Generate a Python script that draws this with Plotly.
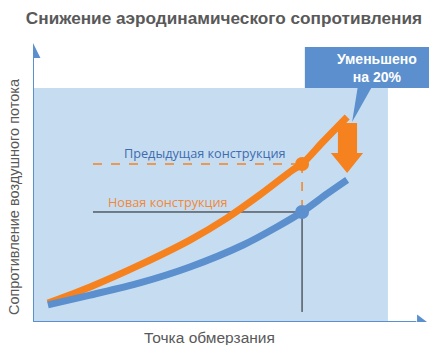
import plotly.graph_objects as go

# 数据（曲线取自图中读数，单位为任意刻度 0–100）
old_x = [4.2, 16.1, 30.1, 44.2, 54.6, 63.9, 73.2, 75.8, 81.7, 88.5]
old_y = [8.1, 15.0, 24.4, 35.0, 44.4, 54.3, 65.0, 67.5, 77.0, 87.6]

new_x = [4.2, 16.1, 30.1, 44.2, 59.2, 68.7, 75.8, 82.8, 88.5]
new_y = [7.3, 11.5, 16.7, 23.5, 32.9, 40.6, 47.0, 54.7, 60.7]

freeze_x = [75.8]
old_at_freeze = [67.5]
new_at_freeze = [47.0]

title_text = "Снижение аэродинамического сопротивления"
x_title = "Точка обмерзания"
y_title = "Сопротивление воздушного потока"
old_label = "Предыдущая конструкция"
new_label = "Новая конструкция"
callout_lines = ["Уменьшено", "на 20%"]

ORANGE = "#F5821F"
BLUE = "#5B8FCD"
BG = "#C6DDF1"
GREY = "#595959"

fig = go.Figure()

# 曲线
fig.add_trace(go.Scatter(
    x=old_x, y=old_y, mode="lines",
    line=dict(color=ORANGE, width=7, shape="spline", smoothing=0.8),
    hoverinfo="skip",
))
fig.add_trace(go.Scatter(
    x=new_x, y=new_y, mode="lines",
    line=dict(color=BLUE, width=7, shape="spline", smoothing=0.8),
    hoverinfo="skip",
))
# 交点
fig.add_trace(go.Scatter(
    x=freeze_x, y=old_at_freeze, mode="markers",
    marker=dict(color=ORANGE, size=14), hoverinfo="skip",
))
fig.add_trace(go.Scatter(
    x=freeze_x, y=new_at_freeze, mode="markers",
    marker=dict(color=BLUE, size=14), hoverinfo="skip",
))

fx = freeze_x[0]
oy = old_at_freeze[0]
ny = new_at_freeze[0]

shapes = [
    # 背景区域
    dict(type="rect", xref="x", yref="y", x0=0, x1=100, y0=0, y1=100,
         fillcolor=BG, line_width=0, layer="below"),
    # 坐标轴
    dict(type="line", xref="x", yref="y", x0=0, x1=0, y0=0, y1=114,
         line=dict(color=BLUE, width=2), layer="below"),
    dict(type="line", xref="x", yref="y", x0=0, x1=108, y0=0, y1=0,
         line=dict(color=BLUE, width=2), layer="below"),
    dict(type="path", xref="x", yref="y",
         path="M -2.1,112.8 L 2.1,112.8 L 0,119.2 Z",
         fillcolor=BLUE, line_width=0, layer="above"),
    dict(type="path", xref="x", yref="y",
         path="M 108.2,-3.2 L 108.2,3.2 L 111,0 Z",
         fillcolor=BLUE, line_width=0, layer="above"),
    # 辅助线
    dict(type="line", xref="x", yref="y", x0=16.9, x1=fx, y0=oy, y1=oy,
         line=dict(color=ORANGE, width=1.5, dash="dash"), layer="below"),
    dict(type="line", xref="x", yref="y", x0=fx, x1=fx, y0=oy, y1=ny,
         line=dict(color=ORANGE, width=1.5, dash="dash"), layer="below"),
    dict(type="line", xref="x", yref="y", x0=16.9, x1=fx, y0=ny, y1=ny,
         line=dict(color="#1a1a1a", width=1), layer="below"),
    dict(type="line", xref="x", yref="y", x0=fx, x1=fx, y0=ny, y1=4.3,
         line=dict(color="#1a1a1a", width=1), layer="below"),
    # 橙色向下箭头
    dict(type="path", xref="x", yref="y",
         path="M 85.9,85.0 L 91.3,85.0 L 91.3,72.2 L 93.0,72.2 L 88.5,63.7 "
              "L 83.9,72.2 L 85.9,72.2 Z",
         fillcolor=ORANGE, line_width=0, layer="above"),
    # 标注框
    dict(type="rect", xref="paper", yref="paper",
         x0=0.690, x1=1.01, y0=0.839, y1=0.986,
         fillcolor=BLUE, line_width=0, layer="above"),
    dict(type="path", xref="x", yref="y",
         path="M 91.5,100.5 L 95.5,100.5 L 89.9,85.5 Z",
         fillcolor=BLUE, line_width=0, layer="above"),
]

annotations = [
    dict(text=old_label, x=48.5, y=72.2, xref="x", yref="y", showarrow=False,
         xanchor="center", yanchor="middle",
         font=dict(family="Open Sans", size=12.7, color="#3E6CAE")),
    dict(text=new_label, x=38.0, y=51.3, xref="x", yref="y", showarrow=False,
         xanchor="center", yanchor="middle",
         font=dict(family="Open Sans", size=12.7, color="#F0883A")),
    dict(text="<b>" + callout_lines[0] + "</b><br><b>" + callout_lines[1] + "</b>",
         x=0.873, y=0.912, xref="paper", yref="paper",
         xanchor="center", yanchor="middle",
         showarrow=False, align="center",
         font=dict(family="Liberation Sans", size=14, color="white")),
    dict(text=y_title, x=-0.048, y=0.448, xref="paper", yref="paper",
         xanchor="center", yanchor="middle",
         showarrow=False, textangle=-90,
         font=dict(family="Liberation Sans", size=14.5, color=GREY)),
    dict(text=x_title, x=0.449, y=-0.057, xref="paper", yref="paper",
         xanchor="center", yanchor="middle", showarrow=False,
         font=dict(family="Liberation Sans", size=15.5, color=GREY)),
]

fig.update_layout(
    width=429, height=345,
    margin=dict(l=33, r=2, t=43, b=23),
    paper_bgcolor="white", plot_bgcolor="white",
    showlegend=False,
    title=dict(text="<b>" + title_text + "</b>", x=0.522, xref="container",
               y=0.948, yref="container", xanchor="center", yanchor="middle",
               font=dict(family="Liberation Sans", size=17.2, color=GREY)),
    xaxis=dict(range=[0, 111], visible=False, fixedrange=True),
    yaxis=dict(range=[0, 119.2], visible=False, fixedrange=True),
    shapes=shapes,
    annotations=annotations,
)

fig.write_html(
    "out.html",
    config={"displayModeBar": False},
    post_script="document.body.style.margin='0';",
)
